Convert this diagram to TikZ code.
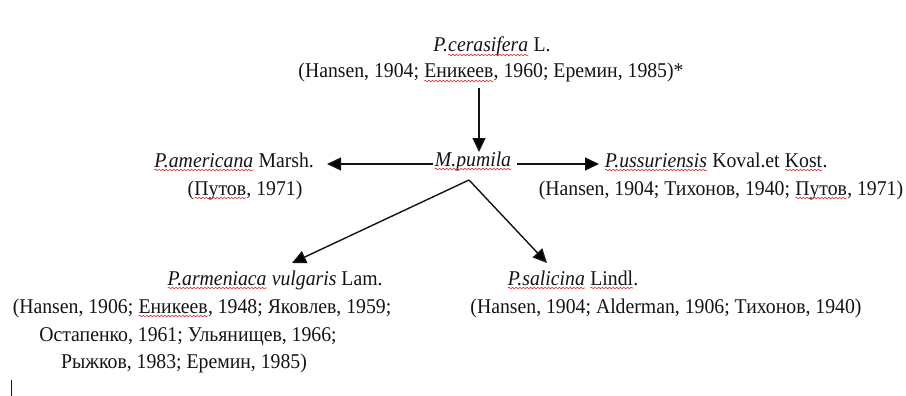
\documentclass[tikz,border=0pt]{standalone}
\usepackage{fontspec}
\setmainfont[FakeStretch=0.94]{Liberation Serif}
\usetikzlibrary{arrows.meta,decorations.pathmorphing,calc}
\definecolor{spellred}{RGB}{228,48,48}
\definecolor{ink}{RGB}{20,20,20}
\tikzset{
  lbl/.style={anchor=base,inner sep=0pt,outer sep=0pt,text=ink,font=\fontsize{21}{25}\selectfont},
  conn/.style={draw=ink,line width=1.4pt,-{Triangle[length=14pt,width=13pt]}},
  sqline/.style={draw=spellred,line width=0.6pt,decorate,decoration={snake,amplitude=0.8pt,segment length=3.6pt}}
}
\newcommand\sq[1]{\tikz[baseline=(sqw.base)]{\node[inner sep=0pt,outer sep=0pt,anchor=base west,draw=none,fill=none] (sqw) at (0pt,0pt) {#1};\draw[sqline] ([yshift=-3pt]sqw.base west) -- ([yshift=-3pt]sqw.base east);}}
\begin{document}
\begin{tikzpicture}[x=1pt,y=-1pt]
\useasboundingbox (0,0) rectangle (906,396);
\fill[white] (0,0) rectangle (906,396);
% top
\node[lbl] (cer1) at (492,52) {\textit{P.\sq{cerasifera}} L.};
\node[lbl] (cer2) at (491,78) {(Hansen, 1904; \sq{Еникеев}, 1960; Еремин, 1985)*};
% centre
\node[lbl] (pum) at (473,166) {\sq{\textit{M.pumila}}};
% left
\node[lbl] (amer1) at (234,167) {\sq{\textit{P.americana}} Marsh.};
\node[lbl] (amer2) at (245,195) {(\sq{Путов}, 1971)};
% right
\node[lbl] (uss1) at (716,167) {\sq{\textit{P.ussuriensis}} Koval.et \sq{Kost}.};
\node[lbl] (uss2) at (721,195) {(Hansen, 1904; Тихонов, 1940; \sq{Путов}, 1971)};
% bottom left
\node[lbl] (arm1) at (275,285) {\sq{\textit{P.armeniaca}} \textit{vulgaris} Lam.};
\node[lbl] (arm2) at (202,313) {(Hansen, 1906; \sq{Еникеев}, 1948; Яковлев, 1959;};
\node[lbl] (arm3) at (188,341) {Остапенко, 1961; Ульянищев, 1966;};
\node[lbl] (arm4) at (184,368) {Рыжков, 1983; Еремин, 1985)};
% bottom right
\node[lbl] (sal1) at (573,285) {\sq{\textit{P.salicina}} \sq{Lindl}.};
\node[lbl] (sal2) at (666,313) {(Hansen, 1904; Alderman, 1906; Тихонов, 1940)};
% connectors
\coordinate (fork) at ($(pum.base)+(-4,14)$);
\draw[conn] ($(cer2.base)+(-12,10)$) -- ($(pum.base)+(6,-14)$);
\draw[conn] ($(pum.base)+(-40,-2)$) -- ($(amer1.base)+(93,-3)$);
\draw[conn] ($(pum.base)+(44,-2)$) -- ($(uss1.base)+(-117,-3)$);
\draw[conn] (fork) -- ($(arm1.base)+(17,-22)$);
\draw[conn] (fork) -- ($(sal1.base)+(-26,-22)$);
% text cursor
\draw[ink,line width=1.6pt] (11.5,380) -- (11.5,396);
\end{tikzpicture}
\end{document}
